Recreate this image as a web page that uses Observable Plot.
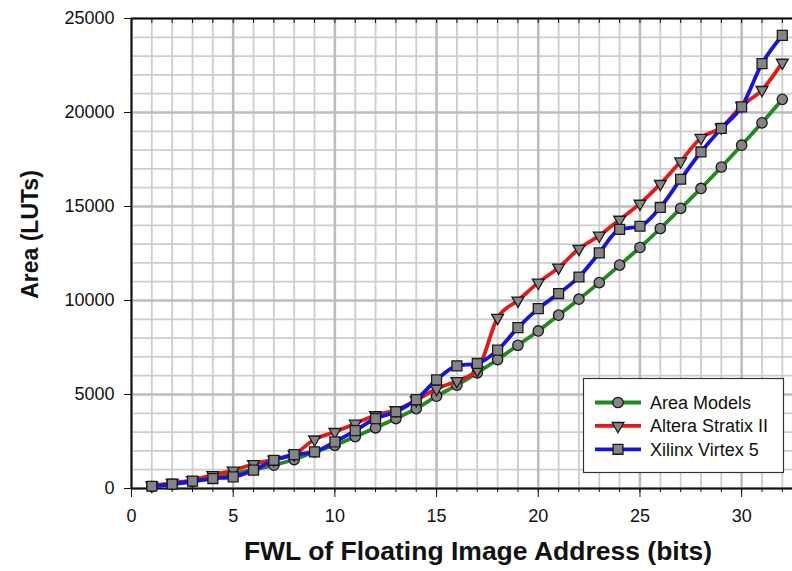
<!DOCTYPE html>
<html>
<head>
<meta charset="utf-8">
<script src="https://cdn.jsdelivr.net/npm/d3@7"></script>
<script src="https://cdn.jsdelivr.net/npm/@observablehq/plot@0.6"></script>
<style>
  html, body { margin: 0; padding: 0; background: #fff; }
  #chart { position: relative; width: 792px; height: 571px; font-family: "Liberation Sans", Arial, sans-serif; }
  #legend { position: absolute; left: 0; top: 0; pointer-events: none; }
</style>
</head>
<body>
<div id="chart"></div>
<script>
// FWL (bits) of the floating image address
const bits = [1, 2, 3, 4, 5, 6, 7, 8, 9, 10, 11, 12, 13, 14, 15, 16,
              17, 18, 19, 20, 21, 22, 23, 24, 25, 26, 27, 28, 29, 30, 31, 32];

// Area in LUTs for each series
const areaModels = [100, 220, 370, 560, 790, 1000, 1240, 1540, 1950, 2300, 2760, 3230,
                    3720, 4250, 4910, 5500, 6150, 6860, 7620, 8380, 9220, 10070, 10950, 11880,
                    12820, 13830, 14900, 15960, 17100, 18260, 19450, 20700];
const alteraStratix = [150, 300, 450, 720, 960, 1300, 1540, 1820, 2610, 3010, 3450, 3900,
                       4170, 4700, 5300, 5720, 6300, 9080, 10000, 10950, 11750, 12750, 13450, 14300,
                       15150, 16200, 17400, 18650, 19200, 20350, 21200, 22650];
const xilinxVirtex = [120, 230, 390, 530, 620, 980, 1500, 1800, 1950, 2480, 3080, 3720,
                      4080, 4730, 5780, 6520, 6650, 7360, 8560, 9570, 10370, 11250, 12530, 13780,
                      13950, 14950, 16450, 17900, 19150, 20300, 22600, 24100];

const seriesNames = ["Area Models", "Altera Stratix II", "Xilinx Virtex 5"];
const seriesColors = ["#1f8a1f", "#e41a1a", "#1414e6"];
const seriesSymbols = ["circle", "triangle", "square"];

const xTicks = [0, 5, 10, 15, 20, 25, 30];
const yTicks = [0, 5000, 10000, 15000, 20000, 25000];

const rows = [];
[areaModels, alteraStratix, xilinxVirtex].forEach((vals, i) => {
  bits.forEach((b, j) => rows.push({series: seriesNames[i], bits: b, area: vals[j]}));
});

const minorX = d3.range(0, 33);
const minorY = d3.range(0, 25001, 1000);

const symbolRadius = {circle: 5.2, triangle: 4.4, square: 5.6};

function seriesMarks(name, i) {
  const data = rows.filter(d => d.series === name);
  const sym = seriesSymbols[i];
  return [
    Plot.line(data, {x: "bits", y: "area", stroke: seriesColors[i], strokeWidth: 3.8, curve: "monotone-x"}),
    Plot.dot(data, {
      x: "bits", y: "area", symbol: sym,
      r: symbolRadius[sym],
      rotate: sym === "triangle" ? 180 : 0,
      fill: "#858585", stroke: "#1a1a1a", strokeWidth: 1.3
    })
  ];
}

const plot = Plot.plot({
  width: 792,
  height: 571,
  marginLeft: 131,
  marginRight: 0,
  marginTop: 18,
  marginBottom: 83,
  style: {fontFamily: "'Liberation Sans', Arial, sans-serif", fontSize: "18px", color: "#111", background: "#fff"},
  x: {domain: [0, 32.5]},
  y: {domain: [0, 25000]},
  marks: [
    // minor grid
    Plot.gridX(minorX.filter(v => v % 5 !== 0), {stroke: "#cdcdcd", strokeOpacity: 1, strokeWidth: 1.8}),
    Plot.gridY(minorY.filter(v => v % 5000 !== 0), {stroke: "#cdcdcd", strokeOpacity: 1, strokeWidth: 1.8}),
    // major grid
    Plot.gridX(xTicks, {stroke: "#bdbdbd", strokeOpacity: 1, strokeWidth: 2.6}),
    Plot.gridY(yTicks, {stroke: "#bdbdbd", strokeOpacity: 1, strokeWidth: 2.6}),
    // frame lines
    Plot.ruleY([0, 25000], {stroke: "#111", strokeWidth: 2}),
    Plot.ruleX([0], {stroke: "#111", strokeWidth: 2}),
    // axes
    Plot.axisY({ticks: yTicks, tickSize: 7, tickPadding: 10, tickFormat: d3.format("d"), label: null, stroke: "#111"}),
    Plot.axisX({ticks: minorX, tickSize: 4, tickFormat: () => "", label: null, stroke: "#111"}),
    Plot.axisX({ticks: xTicks, tickSize: 9, tickPadding: 12, tickFormat: d3.format("d"), label: null, stroke: "#111"}),
    Plot.axisX({anchor: "top", ticks: minorX, tickSize: -4, tickFormat: () => "", label: null, stroke: "#111"}),
    // series
    ...seriesMarks("Area Models", 0),
    ...seriesMarks("Altera Stratix II", 1),
    ...seriesMarks("Xilinx Virtex 5", 2),
    // axis titles
    Plot.text(["Area (LUTs)"], {frameAnchor: "left", textAnchor: "middle", dx: -101, dy: -19, rotate: -90,
                                fontSize: 23, fontWeight: "bold", fill: "#111"}),
    Plot.text(["FWL of Floating Image Address (bits)"], {frameAnchor: "bottom", textAnchor: "middle", dx: 16, dy: 71,
                                fontSize: 26.5, fontWeight: "bold", fill: "#111"})
  ]
});

const chart = document.getElementById("chart");
chart.appendChild(plot);

// legend box
const lg = d3.select(chart).append("svg")
  .attr("id", "legend").attr("width", 792).attr("height", 571);
const box = {x: 583.5, y: 378.5, w: 200, h: 94};
lg.append("rect").attr("x", box.x).attr("y", box.y).attr("width", box.w).attr("height", box.h)
  .attr("fill", "#fff").attr("stroke", "#333").attr("stroke-width", 1.2);
seriesNames.forEach((name, i) => {
  const cy = box.y + 24 + i * 23.4;
  const g = lg.append("g");
  g.append("line").attr("x1", 595).attr("x2", 641).attr("y1", cy).attr("y2", cy)
    .attr("stroke", seriesColors[i]).attr("stroke-width", 3.8);
  const sym = seriesSymbols[i];
  const r = symbolRadius[sym];
  const symType = sym === "circle" ? d3.symbolCircle : sym === "square" ? d3.symbolSquare : d3.symbolTriangle;
  g.append("path").attr("d", d3.symbol(symType, Math.PI * r * r)())
    .attr("transform", `translate(618,${cy})` + (sym === "triangle" ? " rotate(180)" : ""))
    .attr("fill", "#858585").attr("stroke", "#1a1a1a").attr("stroke-width", 1.3);
  g.append("text").attr("x", 650).attr("y", cy).attr("dy", "0.35em")
    .attr("font-family", "'Liberation Sans', Arial, sans-serif").attr("font-size", 18)
    .attr("fill", "#111").text(name);
});
</script>
</body>
</html>
